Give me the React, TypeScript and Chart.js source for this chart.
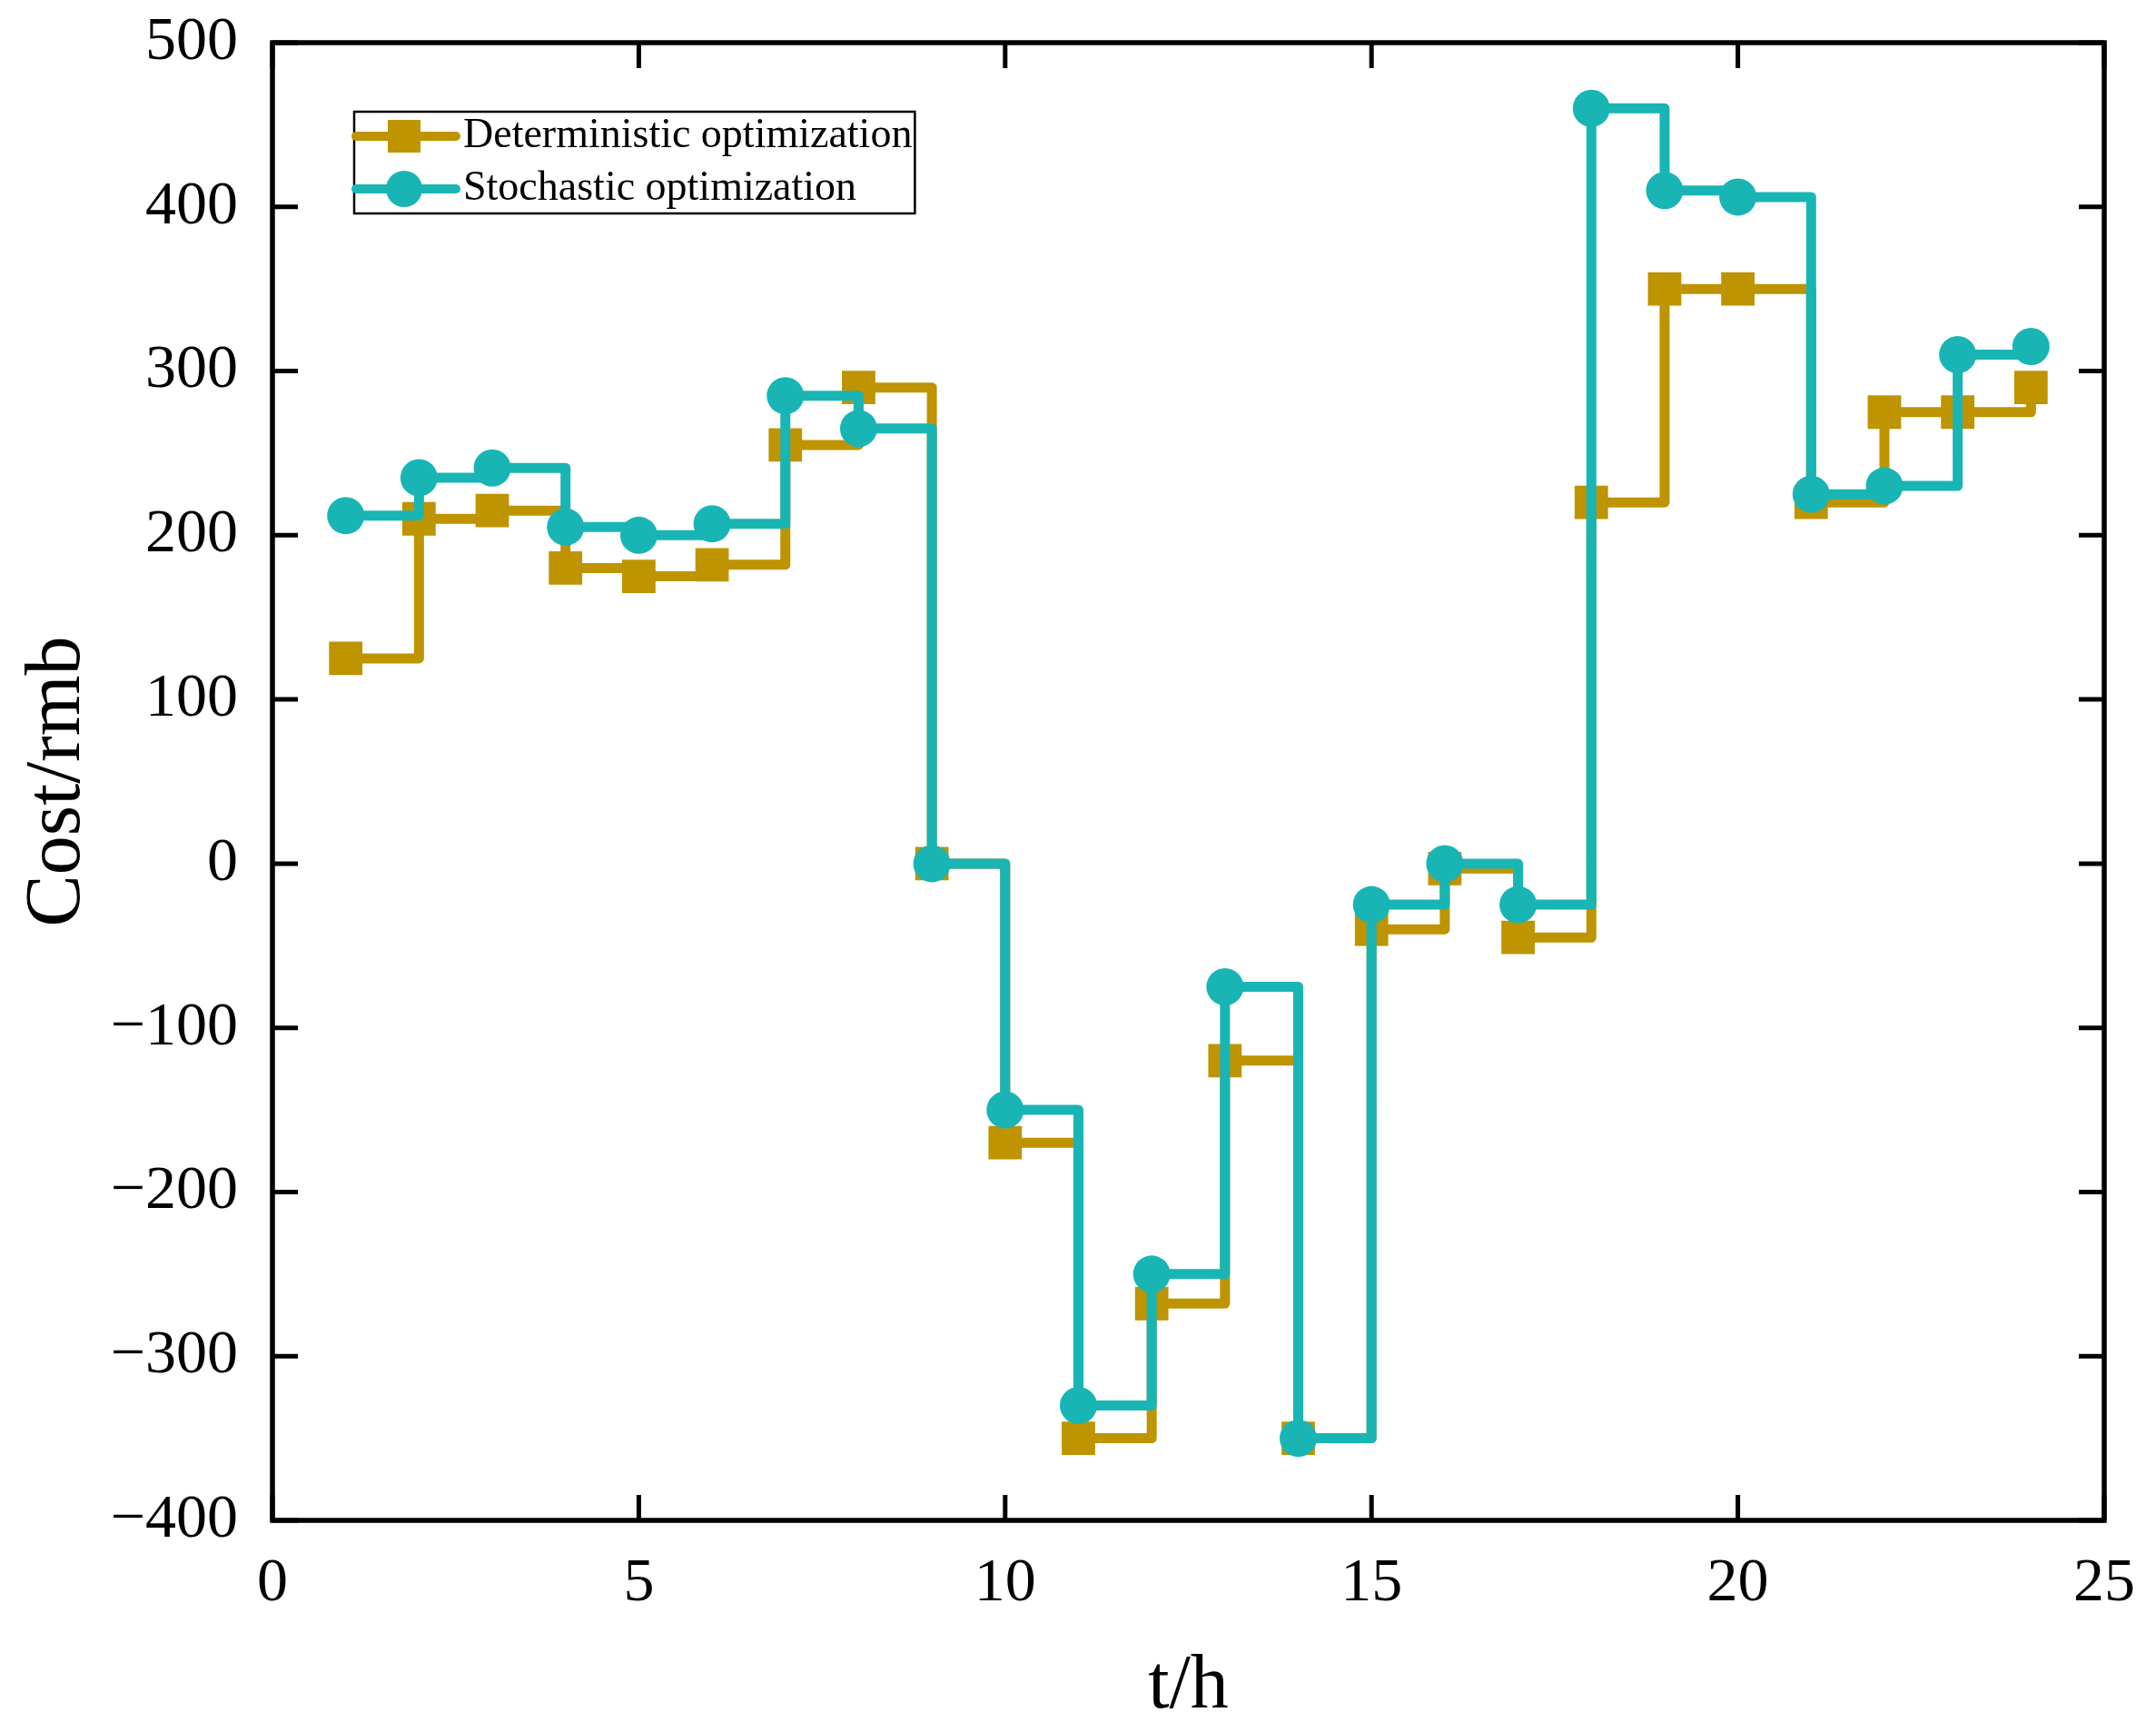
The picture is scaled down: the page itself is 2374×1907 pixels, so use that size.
import { useEffect, useRef } from "react";
import { Chart, registerables, type Plugin } from "chart.js";

Chart.register(...registerables);

const FONT = '"Liberation Serif", "Times New Roman", serif';
Chart.defaults.font.family = FONT;
Chart.defaults.color = "#000";

// hourly cost
const hours = [1, 2, 3, 4, 5, 6, 7, 8, 9, 10, 11, 12, 13, 14, 15, 16, 17, 18, 19, 20, 21, 22, 23, 24];
const deterministic = [125, 210, 215, 180, 175, 182, 255, 290, 0, -170, -350, -268, -120, -350, -40, -3, -45, 220, 350, 350, 220, 275, 275, 290];
const stochastic = [212, 235, 241, 205, 200, 207, 285, 265, 0, -150, -330, -250, -75, -350, -25, 0, -25, 460, 410, 406, 225, 230, 310, 315];
const seriesLabels = ["Deterministic optimization", "Stochastic optimization"];
const xRange = [0, 25];
const yRange = [-400, 500];

const GOLD = "#BE9400";
const TEAL = "#19B5B5";

const toPoints = (vals: number[]) => hours.map((h, i) => ({ x: h, y: vals[i] }));

// closed frame with inward tick marks on all four sides
const framePlugin: Plugin<"line"> = {
  id: "frameTicks",
  afterDraw(chart) {
    const { ctx, chartArea: a } = chart;
    const x = chart.scales.x;
    const y = chart.scales.y;
    const len = 28;
    ctx.save();
    ctx.strokeStyle = "#000";
    ctx.lineWidth = 5;
    ctx.beginPath();
    for (const t of x.ticks) {
      const px = x.getPixelForValue(t.value);
      ctx.moveTo(px, a.bottom);
      ctx.lineTo(px, a.bottom - len);
      ctx.moveTo(px, a.top);
      ctx.lineTo(px, a.top + len);
    }
    for (const t of y.ticks) {
      const py = y.getPixelForValue(t.value);
      ctx.moveTo(a.left, py);
      ctx.lineTo(a.left + len, py);
      ctx.moveTo(a.right, py);
      ctx.lineTo(a.right - len, py);
    }
    ctx.stroke();
    ctx.lineWidth = 5.5;
    ctx.strokeRect(a.left, a.top, a.right - a.left, a.bottom - a.top);
    ctx.restore();
  },
};

// boxed legend in the upper left of the plot, line + marker per entry
const legendPlugin: Plugin<"line"> = {
  id: "boxLegend",
  afterDraw(chart) {
    const { ctx, chartArea } = chart;
    const left = chartArea.left + 90;
    const top = chartArea.top + 76;
    const rowH = 58;
    const pad = 27;
    const lineLen = 112;
    const textX = left + 120;
    const sets = chart.data.datasets as any[];
    ctx.save();
    ctx.font = `46px ${FONT}`;
    const textW = Math.max(...sets.map((d) => ctx.measureText(d.label).width));
    const w = textX + textW + 3 - left;
    const h = pad * 2 + rowH * (sets.length - 1);
    ctx.fillStyle = "#fff";
    ctx.fillRect(left, top, w, h);
    ctx.strokeStyle = "#000";
    ctx.lineWidth = 2.5;
    ctx.strokeRect(left, top, w, h);

    sets.forEach((d, i) => {
      const cy = top + pad + rowH * i;
      ctx.strokeStyle = d.borderColor;
      ctx.lineWidth = 10;
      ctx.lineCap = "round";
      ctx.beginPath();
      ctx.moveTo(left + 2, cy);
      ctx.lineTo(left + lineLen, cy);
      ctx.stroke();
      ctx.fillStyle = d.borderColor;
      const mx = left + 55;
      if (d.pointStyle === "rect") {
        ctx.fillRect(mx - 18, cy - 18, 36, 36);
      } else {
        ctx.beginPath();
        ctx.arc(mx, cy, 20, 0, Math.PI * 2);
        ctx.fill();
      }
      ctx.fillStyle = "#000";
      ctx.textAlign = "left";
      ctx.textBaseline = "middle";
      ctx.fillText(d.label, textX, cy);
    });
    ctx.restore();
  },
};

const fmt = (v: number | string) => {
  const n = Number(v);
  return n < 0 ? "\u2212" + Math.abs(n) : String(n);
};

// invisible tick marks give the label gap without inflating the layout padding
const hiddenGrid = {
  display: true,
  drawOnChartArea: false,
  drawTicks: true,
  tickColor: "rgba(0,0,0,0)",
};

export default function App() {
  const canvasRef = useRef<HTMLCanvasElement>(null);

  useEffect(() => {
    document.body.style.margin = "0";
    if (!canvasRef.current) return;
    const chart = new Chart(canvasRef.current, {
      type: "line",
      data: {
        datasets: [
          {
            label: seriesLabels[0],
            data: toPoints(deterministic),
            borderColor: GOLD,
            backgroundColor: GOLD,
            pointBackgroundColor: GOLD,
            borderWidth: 11,
            stepped: "before",
            borderJoinStyle: "round",
            pointStyle: "rect",
            pointRadius: 26,
            pointBorderWidth: 0,
            order: 2,
          },
          {
            label: seriesLabels[1],
            data: toPoints(stochastic),
            borderColor: TEAL,
            backgroundColor: TEAL,
            pointBackgroundColor: TEAL,
            borderWidth: 11,
            stepped: "before",
            borderJoinStyle: "round",
            pointStyle: "circle",
            pointRadius: 20.5,
            pointBorderWidth: 0,
            order: 1,
          },
        ],
      },
      options: {
        animation: false,
        responsive: true,
        maintainAspectRatio: false,
        events: [],
        layout: { padding: { top: 47, right: 57, left: 0, bottom: 0 } },
        plugins: {
          legend: { display: false },
          tooltip: { enabled: false },
        },
        scales: {
          x: {
            type: "linear",
            min: xRange[0],
            max: xRange[1],
            afterFit: (s) => {
              s.height = 233;
            },
            grid: { ...hiddenGrid, tickLength: 32 },
            border: { display: false },
            ticks: {
              stepSize: 5,
              padding: 4,
              maxRotation: 0,
              autoSkip: false,
              color: "#000",
              font: { size: 68, lineHeight: 1 },
            },
            title: {
              display: true,
              text: "t/h",
              color: "#000",
              font: { size: 84, lineHeight: 1 },
              padding: { top: 0, bottom: 7 },
            },
          },
          y: {
            type: "linear",
            min: yRange[0],
            max: yRange[1],
            afterFit: (s) => {
              s.width = 300;
            },
            grid: { ...hiddenGrid, tickLength: 30 },
            border: { display: false },
            ticks: {
              stepSize: 100,
              padding: 8,
              color: "#000",
              font: { size: 68, lineHeight: 1 },
              callback: (v) => fmt(v),
            },
            title: {
              display: true,
              text: "Cost/rmb",
              color: "#000",
              font: { size: 86, lineHeight: 1 },
              padding: { top: 21, bottom: 0 },
            },
          },
        },
      },
      plugins: [framePlugin, legendPlugin],
    });
    return () => chart.destroy();
  }, []);

  return (
    <div style={{ width: 2374, height: 1907, position: "relative", background: "#fff" }}>
      <canvas ref={canvasRef} />
    </div>
  );
}
